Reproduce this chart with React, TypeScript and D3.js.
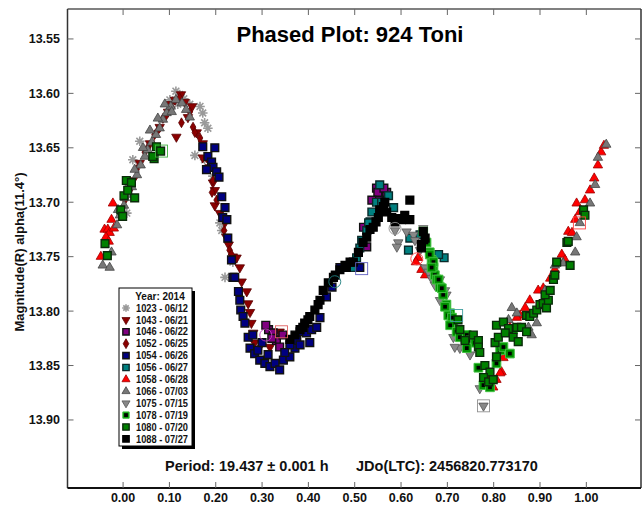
import React from 'react';
import * as d3 from 'd3';

type P = [number, number];

const xTicks = [0, 0.1, 0.2, 0.3, 0.4, 0.5, 0.6, 0.7, 0.8, 0.9, 1.0];
const yTicks = [13.55, 13.6, 13.65, 13.7, 13.75, 13.8, 13.85, 13.9];

const s1023: P[] = [
  [0.114, 13.598], [0.122, 13.601], [0.131, 13.605], [0.118, 13.61], [0.101, 13.606], [0.144, 13.61],
  [0.166, 13.612], [0.172, 13.618], [0.176, 13.627], [0.183, 13.632], [0.155, 13.657], [0.176, 13.661],
  [0.194, 13.676], [0.209, 13.719], [0.213, 13.726], [0.22, 13.769], [0.237, 13.755], [0.036, 13.644],
  [0.021, 13.661], [0.008, 13.71],
];
const s1043: P[] = [
  [0.021, 13.68], [0.036, 13.664], [0.058, 13.646], [0.079, 13.631], [0.097, 13.617], [0.112, 13.606],
  [0.133, 13.608], [0.115, 13.64], [0.14, 13.622], [0.159, 13.636], [0.172, 13.646], [0.187, 13.668],
  [0.198, 13.689], [0.209, 13.71], [0.223, 13.732], [0.237, 13.75], [0.172, 13.659], [0.194, 13.682],
  [0.198, 13.703], [0.228, 13.739], [0.245, 13.751], [0.252, 13.76], [0.256, 13.773], [0.267, 13.782],
  [0.27, 13.793], [0.274, 13.801], [0.277, 13.811], [0.281, 13.82], [0.284, 13.829], [0.317, 13.833],
  [0.338, 13.819], [0.331, 13.825], [0.101, 13.61], [0.125, 13.601], [0.149, 13.612],
];
const s1046: P[] = [
  [0.314, 13.817], [0.324, 13.82], [0.331, 13.827], [0.338, 13.833], [0.321, 13.825], [0.308, 13.813],
  [0.345, 13.822], [0.547, 13.687], [0.558, 13.692], [0.569, 13.691], [0.551, 13.693], [0.519, 13.723],
  [0.526, 13.741], [0.55, 13.691], [0.537, 13.698], [0.563, 13.687],
];
const s1052: P[] = [
  [0.0145, 13.689], [0.029, 13.67], [0.047, 13.654], [0.068, 13.638], [0.086, 13.623], [0.105, 13.613],
  [0.122, 13.604], [0.126, 13.627], [0.151, 13.631], [0.166, 13.641], [0.18, 13.659], [0.194, 13.68],
  [0.202, 13.698], [0.22, 13.719], [0.23, 13.744], [0.155, 13.636], [0.192, 13.691], [0.218, 13.726],
  [0.234, 13.748], [0.295, 13.833], [0.004, 13.698], [0.053, 13.65], [0.075, 13.634], [0.092, 13.621],
  [0.144, 13.617],
];
const s1054: P[] = [
  [0.172, 13.649], [0.198, 13.65], [0.183, 13.658], [0.191, 13.663], [0.194, 13.668], [0.202, 13.672],
  [0.207, 13.677], [0.18, 13.67], [0.213, 13.695], [0.22, 13.705], [0.215, 13.714], [0.224, 13.716],
  [0.226, 13.733], [0.234, 13.753], [0.237, 13.769], [0.241, 13.769], [0.249, 13.782], [0.252, 13.79],
  [0.254, 13.799], [0.259, 13.805], [0.263, 13.811], [0.27, 13.824], [0.274, 13.834], [0.284, 13.839],
  [0.295, 13.845], [0.306, 13.848], [0.317, 13.851], [0.328, 13.848], [0.338, 13.854], [0.346, 13.845],
  [0.36, 13.842], [0.371, 13.834], [0.375, 13.827], [0.382, 13.819], [0.396, 13.82], [0.407, 13.817],
  [0.403, 13.829], [0.418, 13.815], [0.468, 13.76], [0.511, 13.76], [0.291, 13.836], [0.3, 13.829],
  [0.36, 13.831], [0.382, 13.831], [0.28, 13.822], [0.313, 13.84], [0.349, 13.838], [0.425, 13.806],
  [0.439, 13.787], [0.451, 13.778], [0.482, 13.759],
];
const s1056: P[] = [
  [0.537, 13.709], [0.533, 13.718], [0.526, 13.726], [0.515, 13.735], [0.511, 13.742], [0.547, 13.7],
  [0.573, 13.694], [0.558, 13.7], [0.584, 13.705], [0.53, 13.719], [0.504, 13.751], [0.616, 13.744],
  [0.619, 13.733], [0.677, 13.748], [0.693, 13.751], [0.641, 13.73], [0.681, 13.748], [0.554, 13.684],
  [0.494, 13.76],
];
const s1058: P[] = [
  [-0.022, 13.701], [-0.025, 13.716], [-0.04, 13.725], [-0.033, 13.725], [-0.029, 13.728], [-0.037, 13.732],
  [-0.048, 13.75], [-0.031, 13.736], [-0.02, 13.724], [0.637, 13.751], [0.644, 13.762], [0.652, 13.767],
  [0.632, 13.755], [0.979, 13.701], [0.976, 13.716], [0.961, 13.727], [0.969, 13.728], [0.947, 13.748],
  [0.954, 13.753], [0.932, 13.762], [0.922, 13.77], [0.907, 13.779], [0.896, 13.781], [0.878, 13.79],
  [0.868, 13.797], [0.857, 13.804], [0.85, 13.806], [0.835, 13.815], [0.821, 13.843], [0.817, 13.856],
  [0.814, 13.857], [0.806, 13.863], [0.799, 13.87], [0.792, 13.859], [1.008, 13.689], [1.017, 13.678],
  [1.025, 13.666], [1.032, 13.654], [1.038, 13.648], [0.997, 13.698], [0.986, 13.709],
];
const s1066: P[] = [
  [-0.025, 13.746], [-0.044, 13.758], [-0.029, 13.76], [-0.013, 13.721], [-0.007, 13.712], [0.002, 13.703],
  [0.01, 13.693], [0.019, 13.686], [0.03, 13.675], [0.038, 13.666], [0.047, 13.658], [0.053, 13.652],
  [0.062, 13.645], [0.071, 13.638], [0.079, 13.632], [0.086, 13.624], [0.094, 13.618], [0.103, 13.612],
  [0.114, 13.606], [0.127, 13.609], [0.136, 13.615], [0.144, 13.622], [0.105, 13.617], [0.09, 13.61],
  [0.075, 13.623], [0.058, 13.634], [0.043, 13.65], [0.025, 13.67], [0.014, 13.682], [0.004, 13.696],
  [-0.011, 13.707], [0.986, 13.719], [0.979, 13.732], [0.976, 13.746], [0.95, 13.756], [0.839, 13.797],
  [0.85, 13.802], [0.893, 13.811], [0.882, 13.822], [0.875, 13.815], [0.832, 13.808], [1.008, 13.701],
  [1.025, 13.659], [1.043, 13.647], [1.019, 13.684], [0.911, 13.781], [0.932, 13.758],
];
const s1075: P[] = [
  [0.587, 13.726], [0.594, 13.737], [0.591, 13.741], [0.612, 13.727], [0.627, 13.73], [0.63, 13.735],
  [0.648, 13.724], [0.652, 13.76], [0.659, 13.764], [0.666, 13.77], [0.684, 13.771], [0.698, 13.785],
  [0.695, 13.781], [0.713, 13.824], [0.727, 13.834], [0.716, 13.833], [0.734, 13.822], [0.77, 13.871],
  [0.778, 13.887], [0.749, 13.84], [0.684, 13.79], [0.673, 13.776], [0.641, 13.744],
];
const s1078: P[] = [
  [0.648, 13.727], [0.655, 13.737], [0.662, 13.746], [0.666, 13.753], [0.67, 13.76], [0.673, 13.767],
  [0.677, 13.771], [0.684, 13.778], [0.691, 13.785], [0.698, 13.794], [0.706, 13.802], [0.713, 13.811],
  [0.662, 13.748], [0.67, 13.755], [0.666, 13.76], [0.681, 13.771], [0.688, 13.779], [0.695, 13.796],
  [0.702, 13.804], [0.71, 13.806], [0.706, 13.813], [0.72, 13.819], [0.727, 13.824], [0.742, 13.822],
  [0.749, 13.827], [0.76, 13.829], [0.742, 13.834], [0.767, 13.852], [0.778, 13.868], [0.792, 13.87],
  [0.814, 13.836], [0.806, 13.848], [0.821, 13.833], [0.835, 13.839], [0.842, 13.817],
];
const s1080: P[] = [
  [-0.039, 13.738], [-0.034, 13.749], [-0.005, 13.707], [-0.001, 13.713], [0.002, 13.694], [0.007, 13.68],
  [0.018, 13.682], [0.025, 13.696], [0.072, 13.649], [0.081, 13.653], [0.067, 13.66], [0.064, 13.658],
  [0.01, 13.689], [0.756, 13.822], [0.767, 13.827], [0.767, 13.833], [0.77, 13.838], [0.781, 13.85],
  [0.792, 13.856], [0.778, 13.861], [0.789, 13.865], [0.799, 13.863], [0.806, 13.842], [0.803, 13.829],
  [0.81, 13.824], [0.806, 13.813], [0.821, 13.81], [0.832, 13.816], [0.825, 13.82], [0.842, 13.824],
  [0.853, 13.828], [0.85, 13.815], [0.86, 13.815], [0.871, 13.819], [0.871, 13.804], [0.878, 13.805],
  [0.886, 13.802], [0.893, 13.799], [0.9, 13.794], [0.907, 13.793], [0.914, 13.797], [0.918, 13.79],
  [0.911, 13.785], [0.922, 13.781], [0.929, 13.771], [0.932, 13.767], [0.936, 13.755], [0.965, 13.758],
  [0.958, 13.737], [0.961, 13.736], [0.994, 13.707], [0.997, 13.712], [0.727, 13.817], [0.738, 13.827],
  [0.723, 13.808],
];
const s1088: P[] = [
  [0.565, 13.7], [0.562, 13.704], [0.569, 13.709], [0.58, 13.714], [0.591, 13.715], [0.601, 13.716],
  [0.619, 13.716], [0.551, 13.714], [0.54, 13.723], [0.526, 13.732], [0.508, 13.746], [0.497, 13.755],
  [0.482, 13.76], [0.468, 13.762], [0.454, 13.769], [0.443, 13.774], [0.432, 13.781], [0.425, 13.79],
  [0.414, 13.799], [0.403, 13.805], [0.392, 13.811], [0.648, 13.727], [0.644, 13.742], [0.652, 13.733],
  [0.644, 13.739], [0.619, 13.698], [0.382, 13.817], [0.371, 13.822], [0.36, 13.826], [0.388, 13.815],
  [0.399, 13.808], [0.421, 13.794], [0.458, 13.767], [0.479, 13.758], [0.49, 13.755], [0.518, 13.737],
  [0.533, 13.725], [0.546, 13.718], [0.554, 13.707], [0.587, 13.718], [0.608, 13.712],
];

// open highlight markers
const hlPhase = [0.342, 0.308, 0.457, 0.515, 0.587, 0.634, 0.72, 0.778, 0.985, 0.083];
const hlMag = [13.819, 13.822, 13.773, 13.761, 13.724, 13.752, 13.804, 13.887, 13.719, 13.653];
const hlShape = ['square', 'circle', 'circle', 'square', 'circle', 'circle', 'square', 'square', 'square', 'square'];
const hlColor = ['#e06060', '#c040c0', '#208080', '#6060c0', '#909090', '#ff4040', '#40a0a0', '#909090', '#ff4040', '#40b040'];

const sessionLabels = [
  '1023 - 06/12', '1043 - 06/21', '1046 - 06/22', '1052 - 06/25', '1054 - 06/26', '1056 - 06/27',
  '1058 - 06/28', '1066 - 07/03', '1075 - 07/15', '1078 - 07/19', '1080 - 07/20', '1088 - 07/27',
];
const sessionData = [s1023, s1043, s1046, s1052, s1054, s1056, s1058, s1066, s1075, s1078, s1080, s1088];
const sessionShape = ['star', 'triDown', 'square', 'diamond', 'square', 'square', 'triUp', 'triUp', 'triDown', 'squareDot', 'square', 'square'];
const sessionFill = ['#9a9a9a', '#8b0000', '#800080', '#8b0000', '#000080', '#008080', '#ff0000', '#777777', '#888888', '#009000', '#008000', '#000000'];
const sessionStroke = ['#9a9a9a', '#5a0000', '#111111', '#5a0000', '#111111', '#0a2a2a', '#a00000', '#444444', '#555555', '#40c040', '#0a2a0a', '#000000'];

const FONT = 'Liberation Sans, Arial, Helvetica, sans-serif';

const x = d3.scaleLinear().domain([-0.12, 1.118]).range([67.5, 641]);
const y = d3.scaleLinear().domain([13.5225, 13.9625]).range([9, 488]);

const triPath = d3.symbol(d3.symbolTriangle, 38)() as string;
const diaPath = d3.symbol(d3.symbolDiamond, 28)() as string;
const sqPath = d3.symbol(d3.symbolSquare, 60)() as string;
const sqBig = d3.symbol(d3.symbolSquare, 76)() as string;
const sqInner = d3.symbol(d3.symbolSquare, 14)() as string;
const triSmall = d3.symbol(d3.symbolTriangle, 28)() as string;
const sqSmall = d3.symbol(d3.symbolSquare, 40)() as string;

function starPath(r: number) {
  const p = d3.path();
  for (let k = 0; k < 4; k++) {
    const a = (k * Math.PI) / 4;
    p.moveTo(-r * Math.cos(a), -r * Math.sin(a));
    p.lineTo(r * Math.cos(a), r * Math.sin(a));
  }
  return p.toString();
}
const starD = starPath(4.8);
const starSmall = starPath(3.8);

function Marker({ shape, cx, cy, fill, stroke, small }: { shape: string; cx: number; cy: number; fill: string; stroke: string; small?: boolean }) {
  const t = `translate(${cx},${cy})`;
  const tri = small ? triSmall : triPath;
  const sq = small ? sqSmall : sqPath;
  if (shape === 'star') return <path d={small ? starSmall : starD} transform={t} stroke={fill} strokeWidth={1.6} fill="none" />;
  if (shape === 'triUp') return <path d={tri} transform={t} fill={fill} stroke={stroke} strokeWidth={0.8} />;
  if (shape === 'triDown') return <path d={tri} transform={`${t} rotate(180)`} fill={fill} stroke={stroke} strokeWidth={0.8} />;
  if (shape === 'diamond') return <path d={diaPath} transform={t} fill={fill} stroke={stroke} strokeWidth={0.8} />;
  if (shape === 'squareDot')
    return (
      <g transform={t}>
        <path d={small ? sqSmall : sqBig} fill={fill} stroke={stroke} strokeWidth={1} />
        <path d={sqInner} fill="#000" />
      </g>
    );
  return <path d={sq} transform={t} fill={fill} stroke={stroke} strokeWidth={1.4} />;
}

export default function App() {
  const x0 = x.range()[0], x1 = x.range()[1];
  const y0 = y.range()[0], y1 = y.range()[1];
  const legX = 119, legY = 288, legW = 73, legH = 158;
  return (
    <svg width={644} height={506} style={{ position: 'absolute', left: 0, top: 0, background: '#fff' }} fontFamily={FONT}>
      <rect x={0} y={0} width={644} height={506} fill="#fff" />
      <text x={350} y={42} textAnchor="middle" fontSize={22} fontWeight="bold" fill="#000">Phased Plot: 924 Toni</text>

      {sessionData.map((data, i) => (
        <g key={i}>
          {data.map((d, j) => (
            <Marker key={j} shape={sessionShape[i]} cx={x(d[0])} cy={y(d[1])} fill={sessionFill[i]} stroke={sessionStroke[i]} />
          ))}
        </g>
      ))}
      {hlPhase.map((p, i) =>
        hlShape[i] === 'circle' ? (
          <circle key={i} cx={x(p)} cy={y(hlMag[i])} r={6} fill="none" stroke={hlColor[i]} strokeWidth={0.9} />
        ) : (
          <rect key={i} x={x(p) - 6} y={y(hlMag[i]) - 6} width={12} height={12} fill="none" stroke={hlColor[i]} strokeWidth={0.9} />
        )
      )}

      <line x1={x0} x2={x1} y1={y0} y2={y0} stroke="#808080" strokeWidth={2} />
      <line x1={x0} x2={x0} y1={y0} y2={y1} stroke="#333" strokeWidth={1.5} />
      <line x1={x1} x2={x1} y1={y0} y2={y1} stroke="#333" strokeWidth={1.5} />
      <line x1={x0} x2={x1} y1={y1} y2={y1} stroke="#111" strokeWidth={2} />

      {xTicks.map((t, i) => (
        <g key={'x' + i}>
          <line x1={x(t)} x2={x(t)} y1={y1} y2={y1 - 6} stroke="#666" strokeWidth={1} />
          <line x1={x(t)} x2={x(t)} y1={y0} y2={y0 + 6} stroke="#666" strokeWidth={1} />
          <text x={x(t)} y={502} textAnchor="middle" fontSize={12.5} fontWeight="bold" fill="#111">{t.toFixed(2)}</text>
        </g>
      ))}
      {yTicks.map((t, i) => (
        <g key={'y' + i}>
          <line x1={x0} x2={x0 + 6} y1={y(t)} y2={y(t)} stroke="#666" strokeWidth={1} />
          <line x1={x1} x2={x1 - 6} y1={y(t)} y2={y(t)} stroke="#666" strokeWidth={1} />
          <text x={60} y={y(t) + 4.5} textAnchor="end" fontSize={12.5} fontWeight="bold" fill="#111">{t.toFixed(2)}</text>
        </g>
      ))}

      <text transform="translate(24,252) rotate(-90)" textAnchor="middle" fontSize={13} fontWeight="bold" fill="#111">
        Magnitude(R) alpha(11.4°)
      </text>

      <text x={165} y={471} fontSize={14.5} fontWeight="bold" fill="#111">Period: 19.437 ± 0.001 h</text>
      <text x={356} y={471} fontSize={14.5} fontWeight="bold" fill="#111">JDo(LTC): 2456820.773170</text>

      <rect x={legX + 3} y={legY + 3} width={legW} height={legH} fill="#000" />
      <rect x={legX} y={legY} width={legW} height={legH} fill="#fff" stroke="#000" strokeWidth={1} />
      <text x={legX + 41} y={legY + 12} textAnchor="middle" fontSize={10} fontWeight="bold" fill="#111">Year: 2014</text>
      {sessionLabels.map((lab, i) => {
        const ly = legY + 20 + i * 11.9;
        return (
          <g key={'l' + i}>
            <Marker shape={sessionShape[i]} cx={legX + 7} cy={ly} fill={sessionFill[i]} stroke={sessionStroke[i]} small />
            <text x={legX + 17} y={ly + 3.6} fontSize={10} fontWeight="bold" fill="#111" textLength={52} lengthAdjust="spacingAndGlyphs">{lab}</text>
          </g>
        );
      })}
    </svg>
  );
}
